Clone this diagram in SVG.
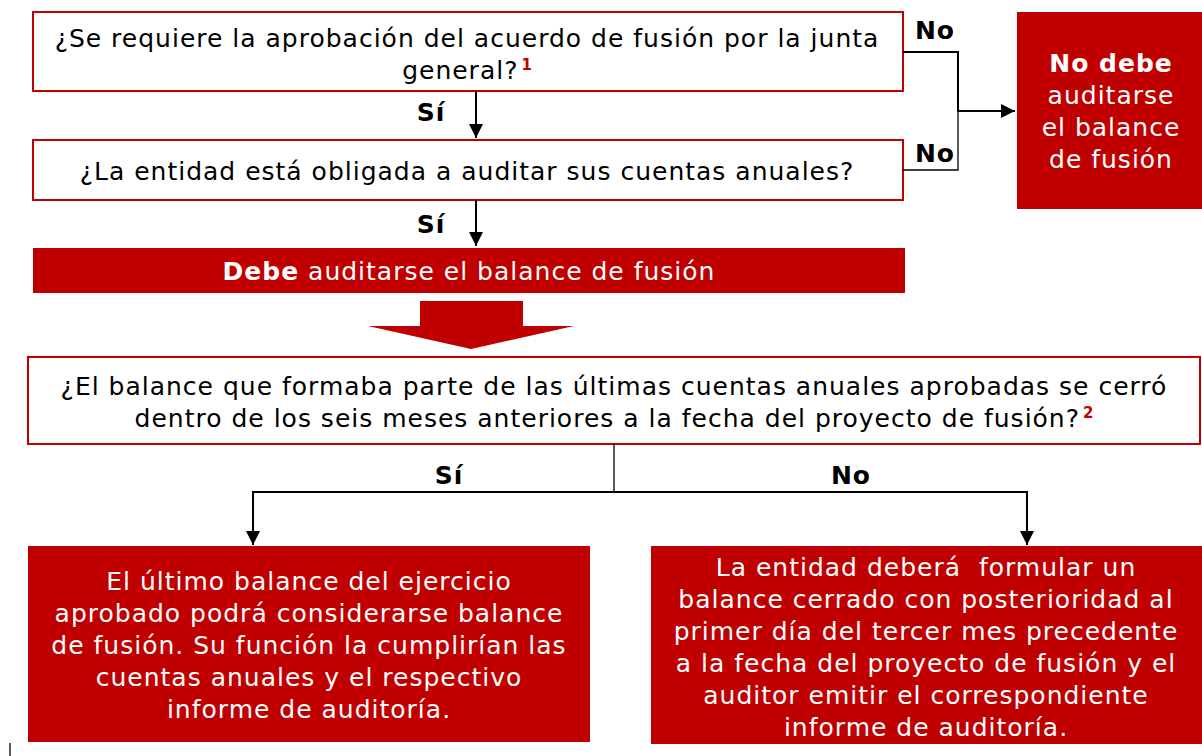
<svg xmlns="http://www.w3.org/2000/svg" width="1202" height="756" viewBox="0 0 1202 756">
<style>
text{font-family:"DejaVu Sans","Verdana",sans-serif;font-size:25px;letter-spacing:1px;text-anchor:middle}
.q{fill:#000}
.w{fill:#fff}
.b{font-weight:bold}
.sup{font-size:15px;font-weight:bold;fill:#C00000;letter-spacing:0}
.box{fill:#fff;stroke:#C00000;stroke-width:2}
.red{fill:#C00000}
.c{fill:none;stroke:#000;stroke-width:2}
.t{fill:none;stroke:#000;stroke-width:1.3}
</style>
<defs>
<marker id="ah" markerUnits="userSpaceOnUse" markerWidth="14" markerHeight="16" refX="14" refY="7" orient="auto">
<path d="M0,0 L14,7 L0,14 Z" fill="#000"/>
</marker>
</defs>
<g id="q1">
<rect class="box" x="33" y="12" width="870" height="79"/>
<text class="q" x="467" y="47">¿Se requiere la aprobación del acuerdo de fusión por la junta</text>
<text class="q" x="467" y="79">general?<tspan class="sup" dx="3" dy="-9">1</tspan></text>
</g>
<g id="q2">
<rect class="box" x="33" y="140" width="870" height="60"/>
<text class="q" x="467" y="180">¿La entidad está obligada a auditar sus cuentas anuales?</text>
</g>
<g id="nodebe">
<rect class="red" x="1017" y="12" width="185" height="197"/>
<text class="w b" x="1111" y="72">No debe</text>
<text class="w" x="1111" y="104">auditarse</text>
<text class="w" x="1111" y="136">el balance</text>
<text class="w" x="1111" y="168">de fusión</text>
</g>
<g id="debe">
<rect class="red" x="33" y="248" width="872" height="45"/>
<text class="w" x="469" y="280"><tspan class="b">Debe</tspan> auditarse el balance de fusión</text>
</g>
<g id="bigarrow">
<path class="red" d="M420,301 H523 V326 H574 L471,349 L368,326 H420 Z"/>
</g>
<g id="q3">
<rect class="box" x="28" y="357" width="1172" height="87"/>
<text class="q" x="614" y="395">¿El balance que formaba parte de las últimas cuentas anuales aprobadas se cerró</text>
<text class="q" x="614" y="427">dentro de los seis meses anteriores a la fecha del proyecto de fusión?<tspan class="sup" dx="3" dy="-9">2</tspan></text>
</g>
<g id="si-box">
<rect class="red" x="28" y="546" width="562" height="196"/>
<text class="w" x="309" y="590">El último balance del ejercicio</text>
<text class="w" x="309" y="622">aprobado podrá considerarse balance</text>
<text class="w" x="309" y="654">de fusión. Su función la cumplirían las</text>
<text class="w" x="309" y="686">cuentas anuales y el respectivo</text>
<text class="w" x="309" y="718">informe de auditoría.</text>
</g>
<g id="no-box">
<rect class="red" x="651" y="546" width="551" height="198"/>
<text class="w" x="926" y="576">La entidad deberá&#160; formular un</text>
<text class="w" x="926" y="608">balance cerrado con posterioridad al</text>
<text class="w" x="926" y="640">primer día del tercer mes precedente</text>
<text class="w" x="926" y="672">a la fecha del proyecto de fusión y el</text>
<text class="w" x="926" y="704">auditor emitir el correspondiente</text>
<text class="w" x="926" y="736">informe de auditoría.</text>
</g>
<g id="connectors">
<path class="c" d="M903,52 H958 V111 H1015" marker-end="url(#ah)"/>
<path class="t" d="M903,170 H958 V111"/>
<path class="c" d="M476,91 V138" marker-end="url(#ah)"/>
<path class="c" d="M476,200 V246" marker-end="url(#ah)"/>
<path class="t" d="M614,444 V492"/>
<path class="c" d="M614,492 H253 V545" marker-end="url(#ah)"/>
<path class="c" d="M614,492 H1027 V545" marker-end="url(#ah)"/>
<path class="t" d="M10,743 V756"/>
<text class="q b" x="935" y="39">No</text>
<text class="q b" x="935" y="162">No</text>
<text class="q b" x="431" y="121">Sí</text>
<text class="q b" x="431" y="233">Sí</text>
<text class="q b" x="449" y="484">Sí</text>
<text class="q b" x="851" y="484">No</text>
</g>
</svg>
